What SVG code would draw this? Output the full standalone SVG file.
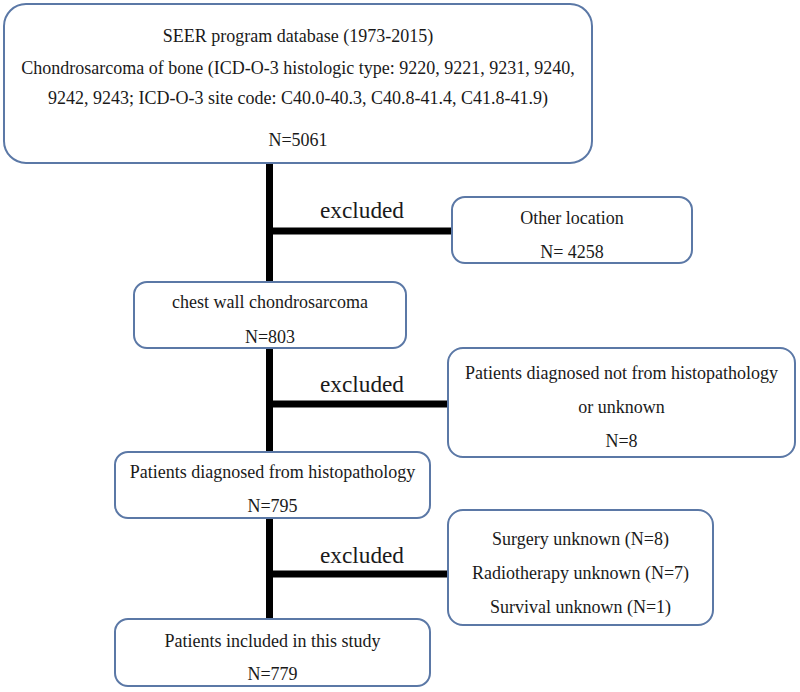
<svg xmlns="http://www.w3.org/2000/svg" width="800" height="692" viewBox="0 0 800 692">
<style>
.box{fill:#ffffff;stroke:#5b78a6;stroke-width:2}
.t{font-family:"Liberation Serif","Times New Roman",serif;font-size:18px;fill:#1a1a1a;text-anchor:middle}
.ex{font-family:"Liberation Serif","Times New Roman",serif;font-size:24px;fill:#1a1a1a;text-anchor:middle}
.c{stroke:#000000;stroke-width:7;fill:none}
</style>
<rect width="800" height="692" fill="#ffffff"/>
<g id="connectors">
<line class="c" x1="269.5" y1="163" x2="269.5" y2="282"/>
<line class="c" x1="269.5" y1="231" x2="452" y2="231"/>
<line class="c" x1="269.5" y1="348" x2="269.5" y2="452"/>
<line class="c" x1="269.5" y1="404" x2="448" y2="404"/>
<line class="c" x1="269.5" y1="518" x2="269.5" y2="619"/>
<line class="c" x1="269.5" y1="574" x2="448" y2="574"/>
<text class="ex" x="362" y="218" textLength="84" lengthAdjust="spacingAndGlyphs">excluded</text>
<text class="ex" x="362" y="392" textLength="84" lengthAdjust="spacingAndGlyphs">excluded</text>
<text class="ex" x="362" y="563" textLength="84" lengthAdjust="spacingAndGlyphs">excluded</text>
</g>
<g id="seer">
<rect class="box" x="4" y="4" width="588" height="159" rx="22"/>
<text class="t" x="298" y="42">SEER program database (1973-2015)</text>
<text class="t" x="298" y="74">Chondrosarcoma of bone (ICD-O-3 histologic type: 9220, 9221, 9231, 9240,</text>
<text class="t" x="298" y="104">9242, 9243; ICD-O-3 site code: C40.0-40.3, C40.8-41.4, C41.8-41.9)</text>
<text class="t" x="298" y="146">N=5061</text>
</g>
<g id="other-location">
<rect class="box" x="452" y="197" width="240" height="66" rx="13"/>
<text class="t" x="572" y="224">Other location</text>
<text class="t" x="572" y="258">N= 4258</text>
</g>
<g id="chest-wall">
<rect class="box" x="134" y="282" width="272" height="66" rx="13"/>
<text class="t" x="270" y="308">chest wall chondrosarcoma</text>
<text class="t" x="270" y="343">N=803</text>
</g>
<g id="not-histo">
<rect class="box" x="448" y="348" width="347" height="109" rx="15"/>
<text class="t" x="621.5" y="379">Patients diagnosed not from histopathology</text>
<text class="t" x="621.5" y="413">or unknown</text>
<text class="t" x="621.5" y="447">N=8</text>
</g>
<g id="histo">
<rect class="box" x="115" y="452" width="315" height="66" rx="13"/>
<text class="t" x="272.5" y="478">Patients diagnosed from histopathology</text>
<text class="t" x="272.5" y="512">N=795</text>
</g>
<g id="unknown">
<rect class="box" x="448" y="510" width="265" height="115" rx="15"/>
<text class="t" x="580.5" y="545">Surgery unknown (N=8)</text>
<text class="t" x="580.5" y="579">Radiotherapy unknown (N=7)</text>
<text class="t" x="580.5" y="613">Survival unknown (N=1)</text>
</g>
<g id="included">
<rect class="box" x="115" y="619" width="315" height="67" rx="13"/>
<text class="t" x="272.5" y="647">Patients included in this study</text>
<text class="t" x="272.5" y="680">N=779</text>
</g>
</svg>
